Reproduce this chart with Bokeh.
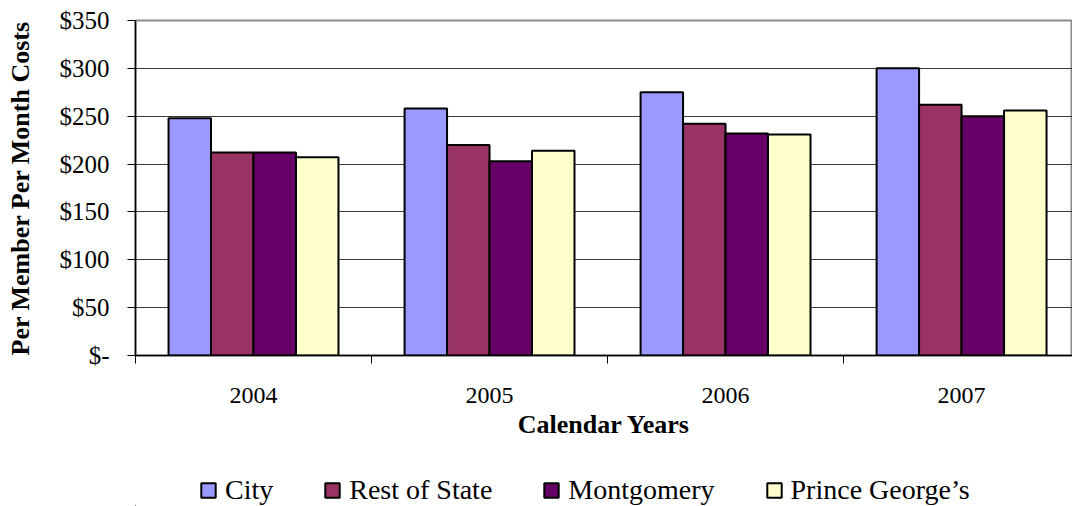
from bokeh.plotting import figure
from bokeh.layouts import column
from bokeh.models import Range1d, FixedTicker, Legend, LegendItem, ColumnDataSource
from bokeh.embed import file_html
from bokeh.resources import INLINE

years = ["2004", "2005", "2006", "2007"]
series = ["City", "Rest of State", "Montgomery", "Prince George\u2019s"]
city = [248, 258, 275, 300]
rest_of_state = [212, 220, 242, 262]
montgomery = [212, 203, 232, 250]
prince_georges = [207, 214, 231, 256]
colors = ["#9999FF", "#993366", "#660066", "#FFFFCC"]
y_ticks = [0, 50, 100, 150, 200, 250, 300, 350]
y_tick_labels = ["$-", "$50", "$100", "$150", "$200", "$250", "$300", "$350"]

FONT = "Liberation Serif"

p = figure(width=1072, height=450, output_backend="svg", toolbar_location=None,
           x_range=Range1d(0, 3.97), y_range=Range1d(0, 350),
           min_border_left=135, min_border_right=0, min_border_top=20,
           min_border_bottom=95)

p.outline_line_color = "#8c8c8c"
p.outline_line_width = 2
p.background_fill_color = "white"
p.border_fill_color = "white"

all_vals = [city, rest_of_state, montgomery, prince_georges]
bar_w = 0.18
offsets = [-1.5 * bar_w, -0.5 * bar_w, 0.5 * bar_w, 1.5 * bar_w]
for name, vals, col, off in zip(series, all_vals, colors, offsets):
    src = ColumnDataSource(dict(x=[i + 0.5 + off for i in range(len(years))], top=vals))
    p.vbar(x="x", top="top", width=bar_w, bottom=0, source=src,
           fill_color=col, line_color="black", line_width=2)

# grid
p.xgrid.visible = False
p.ygrid.ticker = FixedTicker(ticks=y_ticks[1:-1])
p.ygrid.grid_line_color = "#3a3a3a"
p.ygrid.grid_line_width = 1

# x axis
xa = p.xaxis[0]
xa.ticker = FixedTicker(ticks=[i + 0.5 for i in range(len(years))],
                        minor_ticks=list(range(len(years))))
xa.major_label_overrides = {i + 0.5: y for i, y in enumerate(years)}
xa.major_tick_line_color = None
xa.major_tick_out = 0
xa.major_tick_in = 0
xa.minor_tick_out = 8
xa.minor_tick_in = 0
xa.minor_tick_line_color = "black"
xa.axis_line_color = "black"
xa.axis_line_width = 1.5
xa.major_label_standoff = 24
xa.major_label_text_font = FONT
xa.major_label_text_font_size = "24px"
xa.major_label_text_color = "black"
xa.axis_label = "Calendar Years"
xa.axis_label_text_font = FONT
xa.axis_label_text_font_style = "bold"
xa.axis_label_text_font_size = "26px"
xa.axis_label_text_color = "black"
xa.axis_label_standoff = 4

# y axis
ya = p.yaxis[0]
ya.ticker = FixedTicker(ticks=y_ticks)
ya.major_label_overrides = {t: l for t, l in zip(y_ticks, y_tick_labels)}
ya.major_tick_out = 8
ya.major_tick_in = 0
ya.major_tick_line_color = "black"
ya.minor_tick_line_color = None
ya.axis_line_color = "black"
ya.axis_line_width = 1.5
ya.major_label_standoff = 18
ya.major_label_text_font = FONT
ya.major_label_text_font_size = "25px"
ya.major_label_text_color = "black"
ya.axis_label = "Per Member Per Month Costs"
ya.axis_label_text_font = FONT
ya.axis_label_text_font_style = "bold"
ya.axis_label_text_font_size = "26px"
ya.axis_label_text_color = "black"
ya.axis_label_standoff = 22

# legend strip
p2 = figure(width=1072, height=56, output_backend="svg", toolbar_location=None,
            x_axis_type=None, y_axis_type=None,
            x_range=Range1d(0, 1), y_range=Range1d(0, 1),
            min_border_left=0, min_border_right=0, min_border_top=0,
            min_border_bottom=0)
p2.outline_line_color = None
p2.xgrid.visible = False
p2.ygrid.visible = False
items = []
for name, col in zip(series, colors):
    src = ColumnDataSource(dict(x=[-100], top=[-100], bottom=[-101]))
    r = p2.vbar(x="x", top="top", bottom="bottom", width=0.1, source=src,
                fill_color=col, line_color="black", line_width=2)
    items.append(LegendItem(label=name, renderers=[r]))

legend = Legend(items=items, orientation="horizontal", location=(64, 0),
                label_text_font=FONT, label_text_font_size="28px",
                label_text_color="black", glyph_width=18, glyph_height=18,
                label_standoff=8, spacing=50, padding=0, margin=0,
                border_line_color=None, background_fill_alpha=0)
p2.add_layout(legend, "center")

layout = column(p, p2, spacing=0)
open("out.html", "w").write(file_html(layout, INLINE))
